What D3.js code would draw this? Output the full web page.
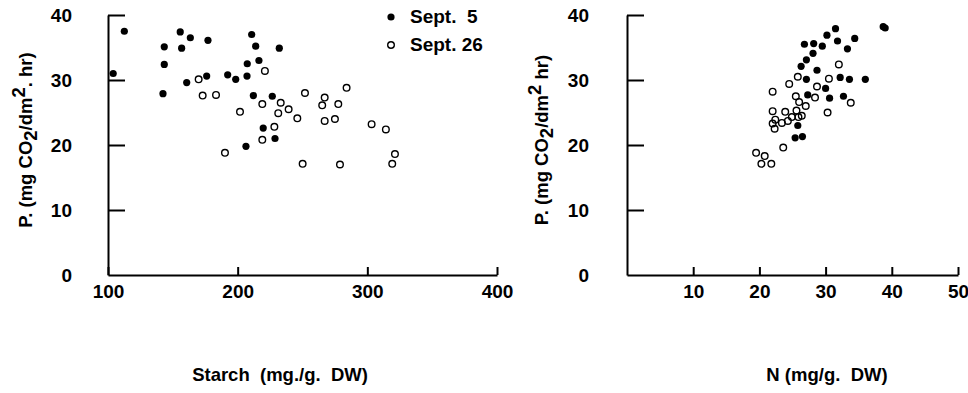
<!DOCTYPE html>
<html>
<head>
<meta charset="utf-8">
<script src="https://cdn.jsdelivr.net/npm/d3@7"></script>
<style>
  body { margin: 0; background: #fff; }
  svg { font-family: "Liberation Sans", Arial, sans-serif; font-weight: bold; }
  .axis path, .axis line { stroke: #000; stroke-width: 2; }
  .axis text { font-size: 19px; font-weight: bold; fill: #000; }
  .title { font-size: 18.5px; white-space: pre; }
</style>
</head>
<body>
<div class="chart"></div>
<script>
// Sept. 5 (filled) : starch vs P
var sep5Starch = [104, 112.6, 143.4, 143.4, 142.4, 155.7, 163.5, 156.8, 177.1, 160.7, 176.1, 192.3,
                  198.5, 207.2, 207.4, 206.4, 210.8, 213.9, 232.1, 216.4, 212.1, 226.7, 219.7, 228.8];
var sep5StarchP = [31.0, 37.5, 35.1, 32.4, 27.9, 37.4, 36.5, 34.9, 36.1, 29.6, 30.6, 30.8,
                   30.1, 30.6, 32.5, 19.8, 37.0, 35.2, 34.9, 33.0, 27.6, 27.5, 22.6, 21.0];
// Sept. 26 (open) : starch vs P
var sep26Starch = [169.9, 173.0, 183.3, 201.8, 190.2, 221.0, 219.0, 233.2, 231.3, 239.3, 228.3, 219.0,
                   251.9, 246.0, 267.1, 265.2, 277.6, 284.0, 267.1, 275.0, 250.1, 278.9, 303.3, 314.3,
                   321.3, 319.2];
var sep26StarchP = [30.1, 27.6, 27.7, 25.1, 18.8, 31.4, 26.3, 26.5, 24.9, 25.5, 22.8, 20.8,
                    28.0, 24.1, 27.3, 26.1, 26.3, 28.8, 23.7, 24.0, 17.1, 17.0, 23.2, 22.4,
                    18.6, 17.1];
// Sept. 5 (filled) : N vs P
var sep5N = [38.7, 39.0, 31.5, 30.2, 31.8, 34.4, 33.3, 26.8, 28.2, 29.5, 28.1, 27.1, 26.3, 28.7,
             27.1, 32.2, 33.6, 36.0, 30.0, 30.6, 27.3, 32.7, 25.8, 25.4, 26.5];
var sep5NP = [38.2, 38.0, 37.9, 36.9, 36.0, 36.4, 34.8, 35.5, 35.6, 35.2, 34.1, 33.1, 32.1, 31.5,
              30.1, 30.4, 30.1, 30.1, 28.7, 27.2, 27.7, 27.5, 23.0, 21.1, 21.3];
// Sept. 26 (open) : N vs P
var sep26N = [32.0, 25.8, 24.5, 30.5, 22.0, 28.7, 28.4, 25.5, 26.0, 27.0, 33.8, 30.3, 22.0, 23.9,
              25.6, 26.4, 24.9, 22.4, 23.4, 24.3, 22.0, 22.3, 25.9, 23.6, 19.5, 20.8, 20.3, 21.8];
var sep26NP = [32.4, 30.5, 29.4, 30.2, 28.2, 29.0, 27.3, 27.5, 26.6, 26.0, 26.5, 25.0, 25.2, 25.1,
               25.3, 24.5, 24.3, 23.9, 23.4, 23.7, 23.3, 22.5, 24.3, 19.6, 18.8, 18.3, 17.1, 17.1];

var pTicks = [0, 10, 20, 30, 40];
var starchTicks = [100, 200, 300, 400];
var nTicks = [10, 20, 30, 40, 50];
var legendLabels = ["Sept.  5", "Sept. 26"];

var width = 968, height = 393;

var svg = d3.select(".chart").append("svg")
    .attr("width", width)
    .attr("height", height);

function zip(xs, ys) {
    return xs.map(function (d, i) { return [d, ys[i]]; });
}

function panel(opt) {
    var x = d3.scaleLinear().domain(opt.xDomain).range(opt.xRange);
    var y = d3.scaleLinear().domain([0, 40]).range([275, 15]);

    svg.append("g")
        .attr("class", "axis")
        .attr("transform", "translate(" + opt.xRange[0] + ",0)")
        .call(d3.axisLeft(y).tickValues(pTicks).tickSizeInner(-17).tickSizeOuter(0).tickPadding(opt.yPad))
        .call(function (g) { g.selectAll(".tick").filter(function (d) { return d == 0; }).select("line").remove(); });

    svg.append("g")
        .attr("class", "axis")
        .attr("transform", "translate(0,275)")
        .call(d3.axisBottom(x).tickValues(opt.xTicks).tickSizeInner(-8).tickSizeOuter(0).tickPadding(10));

    // y title
    var yt = svg.append("text")
        .attr("class", "title")
        .attr("transform", "translate(" + opt.yTitleX + ",140) rotate(-90)")
        .attr("text-anchor", "middle");
    yt.append("tspan").text("P. (mg CO");
    yt.append("tspan").attr("dy", 5).text("2");
    yt.append("tspan").attr("dy", -5).text("/dm");
    yt.append("tspan").attr("dy", -7).text("2");
    yt.append("tspan").attr("dy", 7).text(opt.yTail);

    svg.append("text")
        .attr("class", "title")
        .attr("x", opt.xTitleX)
        .attr("y", 381)
        .attr("text-anchor", "middle")
        .text(opt.xTitle);

    var g = svg.append("g");
    g.selectAll(".filled")
        .data(zip(opt.fx, opt.fy))
        .enter().append("circle")
        .attr("cx", function (d) { return x(d[0]); })
        .attr("cy", function (d) { return y(d[1]); })
        .attr("r", 3.6)
        .attr("fill", "#000");
    g.selectAll(".open")
        .data(zip(opt.ox, opt.oy))
        .enter().append("circle")
        .attr("cx", function (d) { return x(d[0]); })
        .attr("cy", function (d) { return y(d[1]); })
        .attr("r", 3.3)
        .attr("fill", "none")
        .attr("stroke", "#000")
        .attr("stroke-width", 1.4);
}

panel({
    xDomain: [100, 400], xRange: [108, 497], xTicks: starchTicks, yPad: 36,
    yTitleX: 32, yTail: ". hr)", xTitleX: 280, xTitle: "Starch  (mg./g.  DW)",
    fx: sep5Starch, fy: sep5StarchP, ox: sep26Starch, oy: sep26StarchP
});

panel({
    xDomain: [0, 50], xRange: [627, 958], xTicks: nTicks, yPad: 38,
    yTitleX: 548, yTail: " hr)", xTitleX: 827, xTitle: "N (mg/g.  DW)",
    fx: sep5N, fy: sep5NP, ox: sep26N, oy: sep26NP
});

// legend
var legend = svg.append("g").selectAll("g")
    .data(legendLabels)
    .enter().append("g")
    .attr("transform", function (d, i) { return "translate(391," + (17 + i * 28) + ")"; });
legend.append("circle")
    .attr("r", function (d, i) { return i == 0 ? 3.6 : 3.3; })
    .attr("fill", function (d, i) { return i == 0 ? "#000" : "none"; })
    .attr("stroke", "#000")
    .attr("stroke-width", function (d, i) { return i == 0 ? 0 : 1.4; });
legend.append("text")
    .attr("class", "title")
    .attr("x", 19)
    .attr("y", 6)
    .style("font-size", "19px")
    .text(function (d) { return d; });
</script>
</body>
</html>
